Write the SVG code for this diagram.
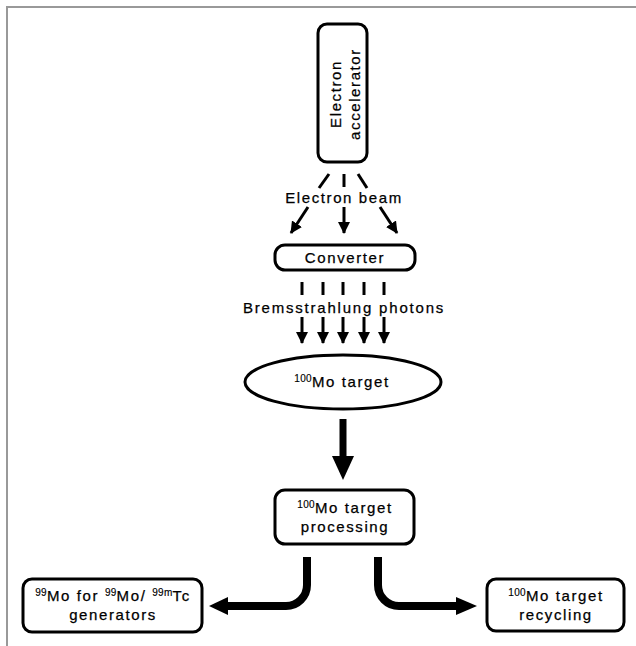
<svg xmlns="http://www.w3.org/2000/svg" width="636" height="646" viewBox="0 0 636 646">
<style>
text{font-family:"Liberation Sans",Arial,sans-serif;font-size:15px;letter-spacing:1.6px;fill:#000;stroke:#000;stroke-width:0.25px;text-anchor:middle}
.sup{font-size:10px;letter-spacing:0.3px;stroke-width:0.15px}
.box{fill:#fff;stroke:#000;stroke-width:3}
.thin{stroke:#000;stroke-width:3;fill:none}
.thick{stroke:#000;stroke-width:8;fill:none}
</style>
<defs>
<marker id="ah" markerUnits="userSpaceOnUse" markerWidth="12" markerHeight="12" refX="11" refY="6" orient="auto">
<path d="M0,0 L12,6 L0,12 z" fill="#000"/>
</marker>
</defs>
<rect width="636" height="646" fill="#fff"/>
<path d="M7,646 V7 H636" fill="none" stroke="#999" stroke-width="2"/>

<g id="accelerator">
<rect class="box" x="318" y="24" width="49" height="138" rx="9"/>
<text transform="translate(342,94) rotate(-90)"><tspan x="0" y="-1">Electron</tspan><tspan x="0" y="18">accelerator</tspan></text>
</g>

<g id="converter">
<rect class="box" x="275" y="245" width="140" height="25" rx="10"/>
<text x="345" y="263">Converter</text>
</g>

<g id="target">
<ellipse class="box" cx="343" cy="382" rx="98" ry="27"/>
<text x="342" y="387"><tspan class="sup" dy="-5">100</tspan><tspan dy="5">Mo target</tspan></text>
</g>

<g id="processing">
<rect class="box" x="275" y="490" width="139" height="54" rx="10"/>
<text x="345" y="513"><tspan class="sup" dy="-5">100</tspan><tspan dy="5">Mo target</tspan></text>
<text x="345" y="532">processing</text>
</g>

<g id="generators">
<rect class="box" x="23" y="579" width="179" height="53" rx="9"/>
<text x="113" y="601"><tspan class="sup" dy="-5">99</tspan><tspan dy="5">Mo for </tspan><tspan class="sup" dy="-5">99</tspan><tspan dy="5">Mo/ </tspan><tspan class="sup" dy="-5">99m</tspan><tspan dy="5">Tc</tspan></text>
<text x="113" y="620">generators</text>
</g>

<g id="recycling">
<rect class="box" x="487" y="579" width="137" height="52" rx="9"/>
<text x="556" y="601"><tspan class="sup" dy="-5">100</tspan><tspan dy="5">Mo target</tspan></text>
<text x="556" y="620">recycling</text>
</g>

<g id="labels">
<text x="344" y="203">Electron beam</text>
<text x="344" y="313" style="letter-spacing:1.8px">Bremsstrahlung photons</text>
</g>

<g id="connectors">
<line class="thin" x1="329" y1="174" x2="319" y2="188"/>
<line class="thin" x1="308" y1="207" x2="291" y2="233" marker-end="url(#ah)"/>
<line class="thin" x1="344" y1="174" x2="344" y2="187"/>
<line class="thin" x1="344" y1="207" x2="344" y2="233" marker-end="url(#ah)"/>
<line class="thin" x1="358" y1="174" x2="367" y2="188"/>
<line class="thin" x1="380" y1="207" x2="397" y2="233" marker-end="url(#ah)"/>

<line class="thin" x1="302" y1="282" x2="302" y2="295"/>
<line class="thin" x1="323" y1="282" x2="323" y2="295"/>
<line class="thin" x1="343" y1="282" x2="343" y2="295"/>
<line class="thin" x1="364" y1="282" x2="364" y2="295"/>
<line class="thin" x1="384" y1="282" x2="384" y2="295"/>
<line class="thin" x1="302" y1="317" x2="302" y2="343" marker-end="url(#ah)"/>
<line class="thin" x1="323" y1="317" x2="323" y2="343" marker-end="url(#ah)"/>
<line class="thin" x1="343" y1="317" x2="343" y2="343" marker-end="url(#ah)"/>
<line class="thin" x1="364" y1="317" x2="364" y2="343" marker-end="url(#ah)"/>
<line class="thin" x1="384" y1="317" x2="384" y2="343" marker-end="url(#ah)"/>

<line x1="343" y1="419" x2="343" y2="457" stroke="#000" stroke-width="7"/>
<path d="M332,456 L354,456 L343,480 z" fill="#000"/>

<path class="thick" d="M307,557 V585 A21,21 0 0 1 286,606 H227"/>
<path d="M228,597 L228,615 L209,606 z" fill="#000"/>
<path class="thick" d="M378,557 V585 A21,21 0 0 0 399,606 H457"/>
<path d="M456,597 L456,615 L477,606 z" fill="#000"/>
</g>
</svg>
